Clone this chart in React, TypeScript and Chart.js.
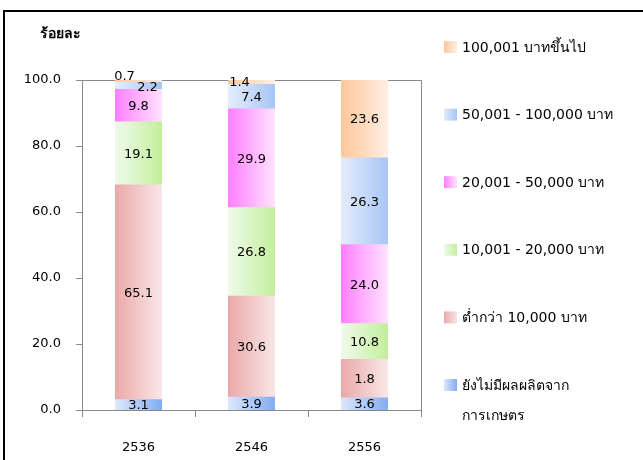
import React, { useEffect, useRef } from "react";
import { Chart, registerables } from "chart.js";

Chart.register(...registerables);

// ---- data ----
const years = ["2536", "2546", "2556"];
const noFarmIncome = [3.1, 3.9, 3.6];
const under10k = [65.1, 30.6, 11.7];
const under10kLabels = ["65.1", "30.6", "1.8"];
const from10kTo20k = [19.1, 26.8, 10.8];
const from20kTo50k = [9.8, 29.9, 24.0];
const from50kTo100k = [2.2, 7.4, 26.3];
const over100k = [0.7, 1.4, 23.6];
const yTicks = [0, 20, 40, 60, 80, 100];
const yTitle = "ร้อยละ";
const seriesNames = [
  "ยังไม่มีผลผลิตจาก\nการเกษตร",
  "ต่ำกว่า 10,000 บาท",
  "10,001 - 20,000 บาท",
  "20,001 - 50,000 บาท",
  "50,001 - 100,000 บาท",
  "100,001 บาทขึ้นไป",
];

// ---- styles ----
const FONT = "'DejaVu Sans', 'Noto Sans', sans-serif";
const gradients: [string, string][] = [
  ["#dce7fb", "#84adf2"],
  ["#eba9a9", "#f9e6e6"],
  ["#effaea", "#c3ef9c"],
  ["#ff80ff", "#ffe2ff"],
  ["#e3ecfc", "#a8c6f4"],
  ["#ffc79a", "#ffefe3"],
];
const BAR_W = 46;
const labelNudge: Record<string, [number, number]> = {
  "5-0": [-14, -6],
  "4-0": [9, 1],
  "5-1": [-12, -1],
};

function makeGrad(ctx: CanvasRenderingContext2D, x0: number, x1: number, c: [string, string]) {
  if (!isFinite(x0) || !isFinite(x1)) return c[0];
  const g = ctx.createLinearGradient(x0, 0, x1, 0);
  g.addColorStop(0, c[0]);
  g.addColorStop(1, c[1]);
  return g;
}

export default function App() {
  const ref = useRef<HTMLCanvasElement | null>(null);

  useEffect(() => {
    const canvas = ref.current;
    if (!canvas) return;
    const seriesValues = [noFarmIncome, under10k, from10kTo20k, from20kTo50k, from50kTo100k, over100k];

    const decor = {
      id: "decor",
      beforeDraw(chart: any) {
        const { ctx } = chart;
        ctx.save();
        ctx.fillStyle = "#fff";
        ctx.fillRect(0, 0, chart.width, chart.height);
        ctx.fillStyle = "#000";
        ctx.fillRect(3, 10, 2, chart.height - 10);
        ctx.fillRect(3, 10, chart.width - 3, 2);
        ctx.restore();
      },
      beforeDatasetsDraw(chart: any) {
        const { ctx, chartArea: a } = chart;
        ctx.save();
        ctx.strokeStyle = "#888";
        ctx.lineWidth = 1;
        ctx.beginPath();
        ctx.moveTo(a.left, a.top + 0.5);
        ctx.lineTo(a.right + 0.5, a.top + 0.5);
        ctx.lineTo(a.right + 0.5, a.bottom);
        ctx.stroke();
        ctx.restore();
      },
      afterDatasetsDraw(chart: any) {
        const { ctx } = chart;
        ctx.save();
        ctx.font = `13px ${FONT}`;
        ctx.fillStyle = "#000";
        ctx.textAlign = "center";
        ctx.textBaseline = "middle";
        chart.data.datasets.forEach((ds: any, di: number) => {
          const meta = chart.getDatasetMeta(di);
          meta.data.forEach((el: any, i: number) => {
            const txt = di === 1 ? under10kLabels[i] : (ds.data[i] as number).toFixed(1);
            const n = labelNudge[`${di}-${i}`] || [0, 0];
            ctx.fillText(txt, el.x + n[0], (el.y + el.base) / 2 + n[1] + 1);
          });
        });
        // y title
        ctx.font = `bold 14px ${FONT}`;
        ctx.textAlign = "left";
        ctx.fillText(yTitle, 40, 34);
        // legend (top to bottom: reversed series)
        ctx.font = `14px ${FONT}`;
        for (let k = 0; k < seriesNames.length; k++) {
          const si = seriesNames.length - 1 - k;
          const cy = 47 + k * 67.6;
          ctx.fillStyle = makeGrad(ctx, 444, 457, gradients[si]);
          ctx.fillRect(444, cy - 6, 13, 12);
          ctx.fillStyle = "#000";
          seriesNames[si].split("\n").forEach((line, li) => {
            ctx.fillText(line, 462, cy + 1 + li * 30);
          });
        }
        ctx.restore();
      },
    };

    const chart = new Chart(canvas, {
      type: "bar",
      data: {
        labels: years,
        datasets: seriesValues.map((vals, si) => ({
          label: seriesNames[si],
          data: vals,
          barThickness: BAR_W,
          borderWidth: 0,
          inflateAmount: 0.5,
          backgroundColor: (c: any) => {
            const ch = c.chart;
            const xs = ch.scales && ch.scales.x;
            if (!xs || c.dataIndex === undefined) return gradients[si][0];
            const cx = xs.getPixelForValue(c.dataIndex);
            return makeGrad(ch.ctx, cx - BAR_W / 2, cx + BAR_W / 2, gradients[si]);
          },
        })),
      },
      options: {
        responsive: false,
        animation: false,
        devicePixelRatio: 1,
        layout: { padding: { left: 0, top: 80, right: 222, bottom: 0 } },
        plugins: { legend: { display: false }, tooltip: { enabled: false } },
        scales: {
          x: {
            stacked: true,
            afterFit: (s: any) => {
              s.height = 50;
            },
            grid: { offset: true, drawOnChartArea: false, tickLength: 7, color: "#888" },
            border: { color: "#888" },
            ticks: { color: "#000", font: { family: FONT, size: 13 }, padding: 23 },
          },
          y: {
            stacked: true,
            min: 0,
            max: 100,
            afterFit: (s: any) => {
              s.width = 82;
            },
            afterBuildTicks: (s: any) => {
              s.ticks = yTicks.map((v) => ({ value: v }));
            },
            grid: { drawOnChartArea: false, tickLength: 6, color: "#888" },
            border: { color: "#888" },
            ticks: {
              color: "#000",
              font: { family: FONT, size: 13 },
              padding: 15,
              callback: (v: any) => Number(v).toFixed(1),
            },
          },
        },
      },
      plugins: [decor],
    });
    return () => chart.destroy();
  }, []);

  return (
    <div style={{ position: "fixed", left: 0, top: 0, width: 643, height: 460 }}>
      <canvas ref={ref} width={643} height={460} style={{ width: 643, height: 460, display: "block" }} />
    </div>
  );
}
